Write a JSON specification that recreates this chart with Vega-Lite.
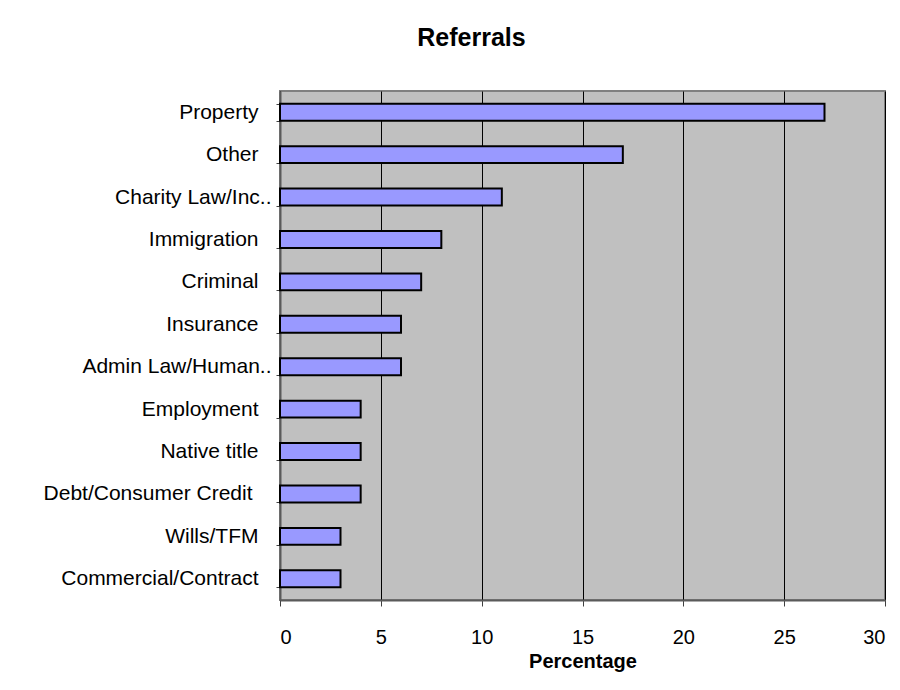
{
  "$schema": "https://vega.github.io/schema/vega-lite/v6.json",
  "width": 605,
  "height": 509,
  "autosize": {"type": "none"},
  "padding": {"left": 280, "top": 91, "right": 15, "bottom": 90},
  "background": "white",
  "title": {
    "text": "Referrals",
    "anchor": "middle",
    "frame": "group",
    "dx": -111,
    "offset": 29,
    "font": "Liberation Sans",
    "fontSize": 25,
    "fontWeight": "bold",
    "color": "black"
  },
  "data": {
    "values": [
      {"category": "Property", "pct": 27},
      {"category": "Other", "pct": 17},
      {"category": "Charity Law/Inc..", "pct": 11},
      {"category": "Immigration", "pct": 8},
      {"category": "Criminal", "pct": 7},
      {"category": "Insurance", "pct": 6},
      {"category": "Admin Law/Human..", "pct": 6},
      {"category": "Employment", "pct": 4},
      {"category": "Native title", "pct": 4},
      {"category": "Debt/Consumer Credit", "pct": 4},
      {"category": "Wills/TFM", "pct": 3},
      {"category": "Commercial/Contract", "pct": 3}
    ]
  },
  "mark": {"type": "bar", "fill": "#9999FF", "stroke": "black", "strokeWidth": 2},
  "encoding": {
    "y": {
      "field": "category",
      "type": "nominal",
      "sort": null,
      "title": null,
      "scale": {"paddingInner": 0.6, "paddingOuter": 0.3},
      "axis": {
        "tickBand": "extent",
        "tickSize": 4,
        "tickColor": "#404040",
        "domainColor": "#5a5a5a",
        "domainWidth": 2,
        "labelPadding": {
          "condition": [
            {"test": "indexof(datum.label, '..') > 0", "value": 5},
            {"test": "datum.label == 'Debt/Consumer Credit'", "value": 24}
          ],
          "value": 18
        },
        "labelLimit": 400,
        "labelFont": "Liberation Sans",
        "labelFontSize": 21,
        "labelColor": "black",
        "grid": false
      }
    },
    "x": {
      "field": "pct",
      "type": "quantitative",
      "title": "Percentage",
      "scale": {"domain": [0, 30], "nice": false},
      "axis": {
        "values": [0, 5, 10, 15, 20, 25, 30],
        "tickSize": 6,
        "tickColor": "#404040",
        "domainColor": "#5a5a5a",
        "domainWidth": 2,
        "labelPadding": 21,
        "labelFont": "Liberation Sans",
        "labelFontSize": 20,
        "labelColor": "black",
        "titleFont": "Liberation Sans",
        "titleFontSize": 20,
        "titleFontWeight": "bold",
        "titleColor": "black",
        "titlePadding": 4,
        "grid": true,
        "gridColor": "black",
        "gridWidth": 1,
        "gridOpacity": 1
      }
    }
  },
  "config": {
    "view": {"fill": "#C0C0C0", "stroke": "#808080", "strokeWidth": 2}
  }
}
